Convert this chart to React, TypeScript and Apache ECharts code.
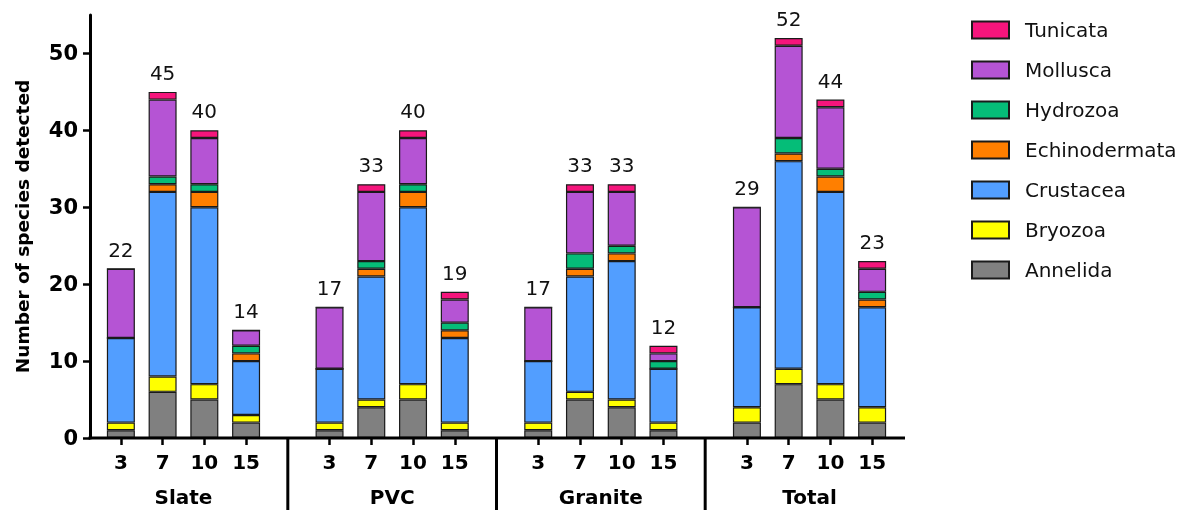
import React, { useEffect, useRef } from 'react';
import * as echarts from 'echarts';

const groups = ['Slate', 'PVC', 'Granite', 'Total'];
const days = ['3', '7', '10', '15'];
const species = ['Annelida', 'Bryozoa', 'Crustacea', 'Echinodermata', 'Hydrozoa', 'Mollusca', 'Tunicata'];
const colors = ['#808080', '#FFFF00', '#529EFF', '#FF7F00', '#05BD78', '#B554D4', '#F5157C'];

const annelida = [1, 6, 5, 2, 1, 4, 5, 1, 1, 5, 4, 1, 2, 7, 5, 2];
const bryozoa = [1, 2, 2, 1, 1, 1, 2, 1, 1, 1, 1, 1, 2, 2, 2, 2];
const crustacea = [11, 24, 23, 7, 7, 16, 23, 11, 8, 15, 18, 7, 13, 27, 25, 13];
const echinodermata = [0, 1, 2, 1, 0, 1, 2, 1, 0, 1, 1, 0, 0, 1, 2, 1];
const hydrozoa = [0, 1, 1, 1, 0, 1, 1, 1, 0, 2, 1, 1, 0, 2, 1, 1];
const mollusca = [9, 10, 6, 2, 8, 9, 6, 3, 7, 8, 7, 1, 13, 12, 8, 3];
const tunicata = [0, 1, 1, 0, 0, 1, 1, 1, 0, 1, 1, 1, 0, 1, 1, 1];
const totals = [22, 45, 40, 14, 17, 33, 40, 19, 17, 33, 33, 12, 29, 52, 44, 23];

const seriesValues = [annelida, bryozoa, crustacea, echinodermata, hydrozoa, mollusca, tunicata];
const yTicks = [0, 10, 20, 30, 40, 50];

export default function App() {
  const ref = useRef<HTMLDivElement>(null);
  useEffect(() => {
    const chart = echarts.init(ref.current!, null, { renderer: 'svg' });
    const cats: string[] = [];
    const idxMap: number[] = [];
    groups.forEach((g, gi) => {
      if (gi > 0) {
        cats.push('');
        idxMap.push(-1);
      }
      days.forEach((d, di) => {
        cats.push(d);
        idxMap.push(gi * days.length + di);
      });
    });
    const expand = (arr: number[]) => idxMap.map((i) => (i < 0 ? null : arr[i]));

    const boldFont = 'DejaVu Sans';
    const series: any[] = species.map((name, si) => ({
      name,
      type: 'bar',
      stack: 'all',
      barWidth: 28,
      data: expand(seriesValues[si]),
      itemStyle: { color: colors[si], borderColor: '#1a1a1a', borderWidth: 1.2 },
    }));
    series.push({
      name: 'totals',
      type: 'bar',
      stack: 'all',
      barWidth: 28,
      data: idxMap.map((i) => (i < 0 ? null : 0)),
      itemStyle: { color: 'transparent', borderWidth: 0 },
      label: {
        show: true,
        position: 'top',
        distance: 9,
        formatter: (p: any) => String(totals[idxMap[p.dataIndex]]),
        fontFamily: 'DejaVu Sans',
        fontSize: 20,
        color: '#111',
      },
      silent: true,
    });

    chart.setOption({
      animation: false,
      grid: { left: 100, right: 295, top: 15, bottom: 72, containLabel: false },
      legend: {
        data: species.slice().reverse(),
        orient: 'vertical',
        left: 966,
        top: 15,
        itemWidth: 37,
        itemHeight: 17,
        itemGap: 20,
        icon: 'rect',
        textStyle: { fontFamily: 'DejaVu Sans', fontSize: 20, color: '#111', padding: [0, 0, 0, 11] },
        selectedMode: false,
      },
      xAxis: {
        type: 'category',
        data: cats,
        axisLine: { show: false },
        axisTick: {
          show: true,
          alignWithLabel: true,
          length: 7,
          interval: (i: number) => cats[i] !== '',
          lineStyle: { color: '#000', width: 2.5 },
        },
        axisLabel: {
          interval: 0,
          margin: 14,
          fontFamily: boldFont,
          fontWeight: 'bold',
          fontSize: 20,
          color: '#000',
        },
      },
      yAxis: {
        type: 'value',
        min: 0,
        max: 55,
        offset: 10,
        name: 'Number of species detected',
        nameLocation: 'middle',
        nameGap: 58,
        nameTextStyle: { fontFamily: boldFont, fontWeight: 'bold', fontSize: 18.5, color: '#000' },
        axisLine: { show: true, lineStyle: { color: '#000', width: 3 } },
        axisTick: { show: true, length: 7, customValues: yTicks, lineStyle: { color: '#000', width: 2.5 } },
        axisLabel: {
          customValues: yTicks,
          margin: 12,
          fontFamily: boldFont,
          fontWeight: 'bold',
          fontSize: 21,
          color: '#000',
        },
        splitLine: { show: false },
      },
      series,
    });

    const y0 = chart.convertToPixel({ yAxisIndex: 0 }, 0) as number;
    const px = (i: number) => chart.convertToPixel({ xAxisIndex: 0 }, i) as number;
    const graphics: any[] = [
      {
        type: 'line',
        shape: { x1: 88.5, y1: y0, x2: 905, y2: y0 },
        style: { stroke: '#000', lineWidth: 3 },
        z: 10,
      },
    ];
    cats.forEach((c, i) => {
      if (c === '') {
        graphics.push({
          type: 'line',
          shape: { x1: px(i), y1: y0, x2: px(i), y2: 510 },
          style: { stroke: '#000', lineWidth: 3 },
          z: 10,
        });
      }
    });
    groups.forEach((g, gi) => {
      const start = gi * (days.length + 1);
      const cx = (px(start) + px(start + days.length - 1)) / 2;
      graphics.push({
        type: 'text',
        x: cx,
        y: 497,
        style: {
          text: g,
          align: 'center',
          verticalAlign: 'middle',
          fontFamily: boldFont,
          fontWeight: 'bold',
          fontSize: 20,
          fill: '#000',
        },
        z: 10,
      });
    });
    chart.setOption({ graphic: graphics });

    return () => chart.dispose();
  }, []);
  return <div ref={ref} style={{ position: 'fixed', left: 0, top: 0, width: 1188, height: 510 }} />;
}
